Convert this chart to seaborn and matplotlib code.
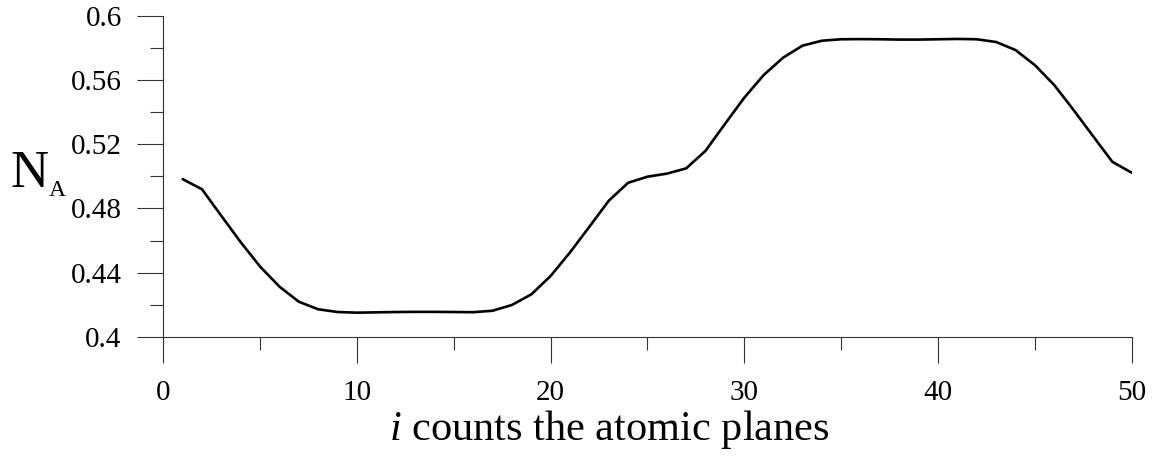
import numpy as np
import pandas as pd
import matplotlib
matplotlib.use("Agg")
import matplotlib.pyplot as plt
import seaborn as sns
from matplotlib.ticker import MultipleLocator

# atomic plane index and the concentration
planes = list(range(1, 51))
n_a = [0.4983, 0.4919, 0.4753, 0.4589, 0.4437, 0.4312, 0.4218, 0.4171, 0.4154, 0.4150,
       0.4152, 0.4154, 0.4155, 0.4155, 0.4154, 0.4153, 0.4162, 0.4198, 0.4264, 0.4379,
       0.4526, 0.4686, 0.4848, 0.4960, 0.4998, 0.5017, 0.5050, 0.5160, 0.5327, 0.5491,
       0.5632, 0.5740, 0.5815, 0.5846, 0.5855, 0.5856, 0.5855, 0.5853, 0.5853, 0.5855,
       0.5857, 0.5855, 0.5838, 0.5788, 0.5694, 0.5570, 0.5414, 0.5252, 0.5091, 0.5023]
ytick_labels = ["0.4", "0.44", "0.48", "0.52", "0.56", "0.6"]

df = pd.DataFrame({"i": planes, "N_A": n_a})

sns.set_style("ticks")
plt.rcParams["font.family"] = ["Liberation Serif", "DejaVu Serif"]
plt.rcParams["mathtext.fontset"] = "custom"
plt.rcParams["mathtext.rm"] = "Liberation Serif"
plt.rcParams["mathtext.it"] = "Liberation Serif:italic"
plt.rcParams["text.color"] = "black"
plt.rcParams["xtick.color"] = "black"
plt.rcParams["ytick.color"] = "black"
plt.rcParams["axes.labelcolor"] = "black"

fig = plt.figure(figsize=(11.55, 4.59), dpi=100)
ax = fig.add_axes([0.1414, 0.2664, 0.8384, 0.6987])

sns.lineplot(data=df, x="i", y="N_A", ax=ax, color="black", linewidth=1.9)

ax.set_xlim(0, 50)
ax.set_ylim(0.4, 0.6)
ax.xaxis.set_major_locator(MultipleLocator(10))
ax.xaxis.set_minor_locator(MultipleLocator(5))
ax.yaxis.set_minor_locator(MultipleLocator(0.02))
ax.set_yticks([float(t) for t in ytick_labels])
ax.set_yticklabels(ytick_labels)

ax.tick_params(which="major", direction="out", length=19, width=0.8,
               color="#333333", labelsize=21, pad=11)
ax.tick_params(which="minor", direction="out", length=9.5, width=0.8, color="#333333")
ax.tick_params(axis="x", which="major", pad=12)

sns.despine(ax=ax)
for side in ["left", "bottom"]:
    ax.spines[side].set_linewidth(0.8)
    ax.spines[side].set_color("#333333")

ax.set_xlabel("$i$ counts the atomic planes", fontsize=30.5)
ax.xaxis.set_label_coords(0.461, -0.322)
ax.xaxis.label.set_va("baseline")
ax.set_ylabel("")
fig.text(0.009, 0.593, "N", fontsize=38, ha="left", va="baseline")
fig.text(0.042, 0.573, "A", fontsize=17, ha="left", va="baseline")

fig.savefig("out.png", dpi=100)
